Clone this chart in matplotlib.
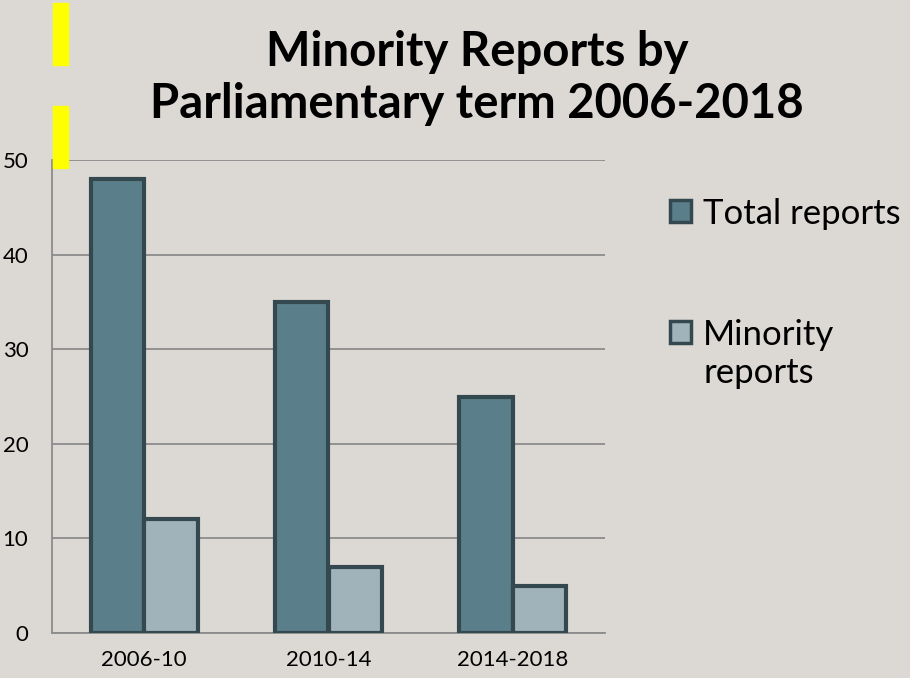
import matplotlib.pyplot as plt
import numpy as np
from matplotlib.patches import Rectangle

plt.rcParams["font.family"] = ["Lato", "DejaVu Sans"]

terms = ["2006-10", "2010-14", "2014-2018"]
total_reports = [48, 35, 25]
minority_reports = [12, 7, 5]
series_labels = ["Total reports", "Minority\nreports"]

BG = "#dcd9d5"
TOTAL_COLOR = "#5b7f8a"
MINORITY_COLOR = "#a0b3ba"
EDGE = "#34494f"
GRID = "#8c8c8c"

W, H = 910, 678
fig = plt.figure(figsize=(W / 100, H / 100), dpi=100, facecolor=BG)
ax = fig.add_axes([52 / W, 1 - 633 / H, 553 / W, 473 / H])
ax.set_facecolor(BG)

x = np.arange(len(terms))
width = 0.29
ax.bar(x - width / 2, total_reports, width, color=TOTAL_COLOR, edgecolor=EDGE,
       linewidth=3, zorder=3)
ax.bar(x + width / 2, minority_reports, width, color=MINORITY_COLOR, edgecolor=EDGE,
       linewidth=3, zorder=3)

ax.set_xlim(-0.5, len(terms) - 0.5)
ax.set_ylim(0, 50)
ax.set_yticks(range(0, 51, 10))
ax.set_xticks(x)
ax.set_xticklabels(terms)
ax.tick_params(axis="both", length=0, labelsize=16, colors="black")
ax.tick_params(axis="y", pad=17)
ax.tick_params(axis="x", pad=12)
ax.grid(axis="y", color=GRID, linewidth=1.3, zorder=0)
for side in ("top", "right"):
    ax.spines[side].set_visible(False)
for side in ("left", "bottom"):
    ax.spines[side].set_color(GRID)
    ax.spines[side].set_linewidth(1.3)

fig.text(477 / W, 1 - 78 / H, "Minority Reports by\nParliamentary term 2006-2018",
         ha="center", va="center", fontsize=34, fontweight="bold", linespacing=1.2)

# yellow highlight marks
for y0, y1 in ((3, 65), (106, 168)):
    fig.patches.append(Rectangle((53 / W, 1 - y1 / H), 15 / W, (y1 - y0) / H,
                                 transform=fig.transFigure, color="#ffff00", zorder=10))

# legend drawn by hand so the handle sits on the first text line
legend_rows = [(222, TOTAL_COLOR), (343, MINORITY_COLOR)]
for (baseline, color), label in zip(legend_rows, series_labels):
    fig.patches.append(Rectangle((670 / W, 1 - baseline / H), 21 / W, 22 / H,
                                 transform=fig.transFigure, facecolor=color,
                                 edgecolor=EDGE, linewidth=2.5, zorder=5))
    for i, line in enumerate(label.split("\n")):
        fig.text(703 / W, 1 - (baseline + 2 + i * 38) / H, line, ha="left",
                 va="baseline", fontsize=25)

fig.savefig("out.png", dpi=100, facecolor=BG)
